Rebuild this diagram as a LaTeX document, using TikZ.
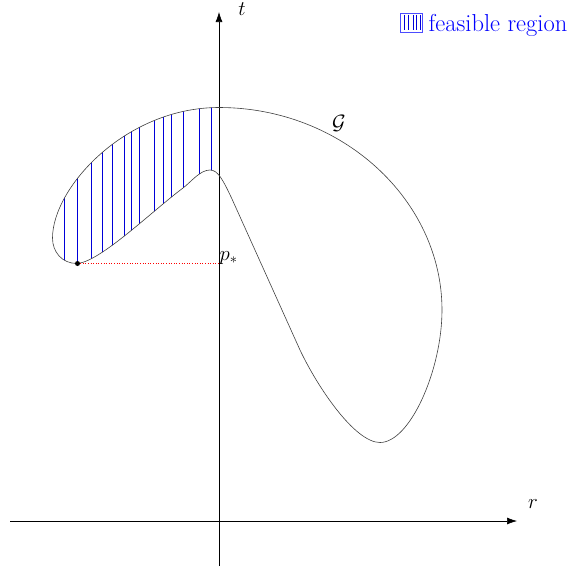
\documentclass[tikz,border=0pt]{standalone}
\usetikzlibrary{arrows.meta}
\begin{document}
\begin{tikzpicture}[x=1pt,y=-1pt,
  axis/.style={line width=0.6pt,-{Latex[length=10pt,width=7pt]}},
  curveG/.style={line width=0.6pt,draw=black!75},
  hatch/.style={draw=blue!85!black,line width=0.8pt},
  lab/.style={font=\fontsize{22}{26}\selectfont,inner sep=0pt}]
\useasboundingbox (0,0) rectangle (569,571);
\def\Gpath{(219,107.5) .. controls (342,107.5) and (442,200) .. (442,310)
  .. controls (442,370) and (410,442.5) .. (380,442.5)
  .. controls (355,442.5) and (318,388) .. (300,350)
  -- (232,199)
  .. controls (223,180) and (218,170) .. (210,170)
  .. controls (200,170) and (191,182) .. (183,188)
  .. controls (151,212) and (100,262) .. (77,263.5)
  .. controls (62,263.5) and (52.5,252) .. (52.5,238)
  .. controls (52.5,188) and (125,107.5) .. (219,107.5) -- cycle}
% hatching
\begin{scope}
  \clip \Gpath;
  \clip (40,95) rectangle (213,264);
  \foreach \x in {64,77.5,91,102,112,124,131,139,154,163,171,183,199,211}
    \draw[hatch] (\x,95) -- (\x,264);
\end{scope}
% axes
\coordinate (xs) at (10,521); \coordinate (xe) at (517,521);
\coordinate (ys) at (219,566); \coordinate (ye) at (219,12);
\draw[axis] (xs) -- (xe);
\draw[axis] (ys) -- (ye);
\node[lab] (r) at (533,504) {$r$};
\node[lab] (t) at (242,9) {$t$};
% curve
\draw[curveG] \Gpath;
\node[lab] (G) at (339,123) {$\mathcal{G}$};
% p*
\node[circle,fill=black,inner sep=0pt,minimum size=5pt] (pt) at (77.5,263.5) {};
\coordinate (pa) at (219,263.5);
\draw[red,dotted,line width=0.6pt] (pt) -- (pa);
\node[lab,anchor=west] (ps) at (219.5,258) {$p_*$};
% legend
\node[draw=blue!70,line width=0.6pt,minimum width=22pt,minimum height=19pt,inner sep=0pt] (lb) at (411.5,22.5) {};
\foreach \x in {404,408,413,416,420}
  \draw[hatch,line width=0.6pt] ([yshift=-2pt]lb.north -| \x,0) -- ([yshift=2pt]lb.south -| \x,0);
\node[lab,font=\fontsize{24.5}{28}\selectfont,anchor=base west,text=blue] (lt) at (428.5,31.5) {feasible region};
\end{tikzpicture}
\end{document}
